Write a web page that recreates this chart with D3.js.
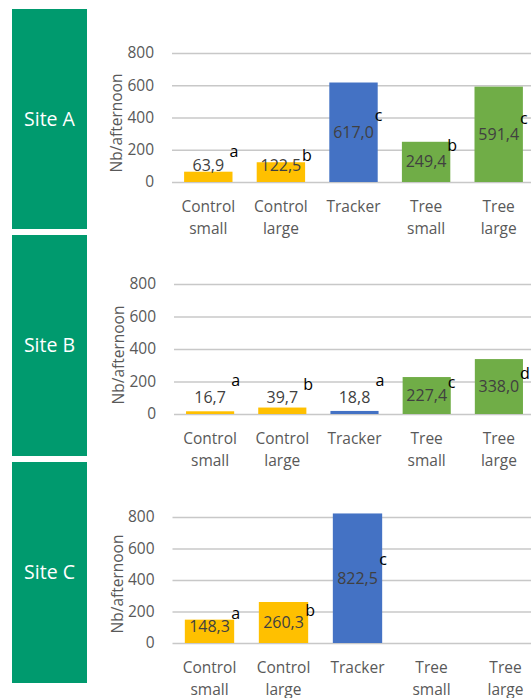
<!DOCTYPE html>
<html>
<head>
<meta charset="utf-8">
<script src="https://cdn.jsdelivr.net/npm/d3@7"></script>
<style>
  body { margin: 0; background: #fff; }
  text { font-family: "Open Sans", Lato, sans-serif; }
</style>
</head>
<body>
<svg id="svg"></svg>
<script>
// data
const categories = [["Control", "small"], ["Control", "large"], ["Tracker"], ["Tree", "small"], ["Tree", "large"]];
const catColors = ["#FFC000", "#FFC000", "#4472C4", "#70AD47", "#70AD47"];
const sites = ["Site A", "Site B", "Site C"];
const valuesA = [63.9, 122.5, 617.0, 249.4, 591.4];
const valuesB = [16.7, 39.7, 18.8, 227.4, 338.0];
const valuesC = [148.3, 260.3, 822.5, null, null];
const lettersA = ["a", "b", "c", "b", "c"];
const lettersB = ["a", "b", "a", "c", "d"];
const lettersC = ["a", "b", "c", "", ""];
// height (in y units) where the significance letter sits
const letterAtA = [192, 167, 415, 229, 397];
const letterAtB = [209, 185, 209, 197, 252];
const letterAtC = [190, 209, 533, null, null];
const yTicks = [0, 200, 400, 600, 800];

const width = 531, height = 698;

// panel layout
const panels = [
  { values: valuesA, letters: lettersA, letterAt: letterAtA, boxTop: 9,   boxBottom: 229, y0: 182, y800: 53,  x0: 172, x1: 535 },
  { values: valuesB, letters: lettersB, letterAt: letterAtB, boxTop: 235, boxBottom: 456, y0: 414, y800: 284, x0: 174, x1: 535 },
  { values: valuesC, letters: lettersC, letterAt: letterAtC, boxTop: 462, boxBottom: 683, y0: 643, y800: 517, x0: 172.5, x1: 542.5 }
];

const svg = d3.select("#svg")
  .attr("width", width)
  .attr("height", height);

panels.forEach((p, pi) => {
  const g = svg.append("g");

  const x = d3.scaleBand()
    .domain(d3.range(categories.length))
    .range([p.x0, p.x1])
    .paddingInner(1 / 3)
    .paddingOuter(1 / 6);

  const y = d3.scaleLinear()
    .domain([0, 800])
    .range([p.y0, p.y800]);

  // site box
  g.append("rect")
    .attr("x", 12)
    .attr("y", p.boxTop)
    .attr("width", 75)
    .attr("height", p.boxBottom - p.boxTop)
    .attr("fill", "#009A6E");

  g.append("text")
    .attr("x", 49.5)
    .attr("y", (p.boxTop + p.boxBottom) / 2)
    .attr("dy", "0.35em")
    .attr("text-anchor", "middle")
    .attr("fill", "#fff")
    .attr("font-size", 19.5)
    .text(sites[pi]);

  // gridlines + y labels
  const yAxis = d3.axisLeft(y)
    .tickValues(yTicks)
    .tickSize(-(width - p.x0))
    .tickPadding(18);

  const ya = g.append("g")
    .attr("transform", `translate(${p.x0},0)`)
    .call(yAxis);
  ya.select(".domain").remove();
  ya.selectAll(".tick line").attr("stroke", "#C8C8C8").attr("stroke-width", 1.5);
  ya.selectAll(".tick text")
    .attr("fill", "#595959")
    .attr("font-size", 15.5)
    .attr("font-family", "'Open Sans', sans-serif");

  // axis title
  g.append("text")
    .attr("transform", `translate(${p.x0 - 55},${p.y0 - 59}) rotate(-90)`)
    .attr("text-anchor", "middle")
    .attr("dy", "0.35em")
    .attr("fill", "#595959")
    .attr("font-size", 15.5)
    .text("Nb/afternoon");

  const rows = p.values.map((v, i) => ({ i, v, letter: p.letters[i], at: p.letterAt[i] }));
  const present = rows.filter(d => d.v != null);

  // bars
  g.selectAll("rect.bar")
    .data(present)
    .join("rect")
    .attr("class", "bar")
    .attr("x", d => x(d.i))
    .attr("width", x.bandwidth())
    .attr("y", d => y(d.v))
    .attr("height", d => y(0) - y(d.v))
    .attr("fill", d => catColors[d.i]);

  // value labels (centred, but kept above the axis)
  g.selectAll("text.val")
    .data(present)
    .join("text")
    .attr("class", "val")
    .attr("x", d => x(d.i) + x.bandwidth() / 2)
    .attr("y", d => Math.min((y(0) + y(d.v)) / 2, y(0) - 17))
    .attr("dy", "0.35em")
    .attr("text-anchor", "middle")
    .attr("fill", "#404040")
    .attr("font-size", 16)
    .text(d => d.v.toFixed(1).replace(".", ","));

  // significance letters
  g.selectAll("text.letter")
    .data(present.filter(d => d.letter))
    .join("text")
    .attr("class", "letter")
    .attr("x", d => x(d.i) + x.bandwidth() - 3)
    .attr("y", d => y(d.at))
    .attr("dy", "0.35em")
    .attr("fill", "#000")
    .attr("font-size", 16)
    .text(d => d.letter);

  // category labels
  const cat = g.selectAll("text.cat")
    .data(categories)
    .join("text")
    .attr("class", "cat")
    .attr("text-anchor", "middle")
    .attr("fill", "#595959")
    .attr("font-size", 15.5);
  cat.selectAll("tspan")
    .data((d, i) => d.map(t => ({ t, i })))
    .join("tspan")
    .attr("x", d => x(d.i) + x.bandwidth() / 2)
    .attr("y", (d, j) => p.y0 + 25 + j * 21.5)
    .attr("dy", "0.35em")
    .text(d => d.t);
});
</script>
</body>
</html>
